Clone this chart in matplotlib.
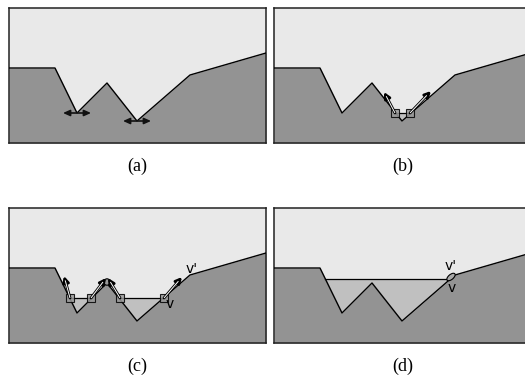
import numpy as np
import matplotlib
matplotlib.use("Agg")
from matplotlib import pyplot as plt
from matplotlib.patches import Rectangle, Ellipse, Circle

# terrain profile shared by all four panels (panel units, y up)
terrain_x = [0, 46, 68, 98, 128, 181, 257]
terrain_h = [75, 75, 30, 60, 22, 68, 90]
panel_w, panel_h = 257, 135

captions = ['(a)', '(b)', '(c)', '(d)']

# (a) horizontal probes at the two valley bottoms
probe_x = [68, 128]
probe_h = [30, 22]
probe_half = 14

# (b) one pool, level and the two edge cells
pool_b = 30
cells_b = [121, 136]
arrows_b = [((121, 30), (110, 51)), ((136, 30), (157, 52))]

# (c) two pools at one level, four edge cells
pool_c = 45
cells_c = [61, 82, 111, 155]
arrows_c = [((61, 45), (55, 67)), ((82, 45), (97, 65)),
            ((111, 45), (99, 65)), ((155, 45), (173, 66))]
peak_c = (98, 61)

# (d) merged pool
pool_d = 64
merge_pt = (177, 66)

sky = '#e9e9e9'
ground = '#939393'
water = '#c0c0c0'

W, H = 525, 380
fig = plt.figure(figsize=(W / 100, H / 100), dpi=100)

# panel boxes in pixels: left, bottom
boxes = [(9, 143), (274, 143), (9, 343), (274, 343)]


def crossings(level, lo, hi):
    # x positions where the terrain meets a water level inside [lo, hi]
    xs = []
    for i in range(len(terrain_x) - 1):
        h0, h1 = terrain_h[i], terrain_h[i + 1]
        if (h0 - level) * (h1 - level) < 0:
            x0, x1 = terrain_x[i], terrain_x[i + 1]
            xc = x0 + (level - h0) / (h1 - h0) * (x1 - x0)
            if lo <= xc <= hi:
                xs.append(xc)
    return xs


def draw_pool(ax, level, lo, hi):
    tx = np.array(terrain_x, float)
    th = np.array(terrain_h, float)
    ax.fill_between(tx, th, level, where=(th < level) & (tx > lo) & (tx < hi),
                    interpolate=True, color=water, lw=0, zorder=2)
    xs = crossings(level, lo, hi)
    for a, b in zip(xs[0::2], xs[1::2]):
        ax.plot([a, b], [level, level], color='k', lw=0.9, zorder=3)


def draw_cell(ax, x, y):
    ax.add_patch(Rectangle((x - 4, y - 4), 8, 8, fc='#9a9a9a', ec='k',
                           lw=0.8, alpha=0.85, zorder=4))


def draw_arrow(ax, p0, p1):
    ax.annotate('', xy=p1, xytext=p0, zorder=5,
                arrowprops=dict(arrowstyle='-|>,head_length=0.35,head_width=0.18',
                                color='k', lw=2.0, shrinkA=0, shrinkB=0))
    d = np.array(p1, float) - np.array(p0, float)
    q = np.array(p0, float) + d * 0.8
    ax.plot([p0[0], q[0]], [p0[1], q[1]], color='white', lw=0.7, zorder=6,
            solid_capstyle='butt')


axes = []
for (lx, by), cap in zip(boxes, captions):
    ax = fig.add_axes([lx / W, (H - by) / H, panel_w / W, panel_h / H])
    ax.set_xlim(0, panel_w)
    ax.set_ylim(0, panel_h)
    ax.set_facecolor(sky)
    ax.fill_between(terrain_x, 0, terrain_h, color=ground, lw=0, zorder=1)
    ax.plot(terrain_x, terrain_h, color='k', lw=1.0, zorder=3.5)
    ax.set_xticks([])
    ax.set_yticks([])
    for s in ax.spines.values():
        s.set_linewidth(1.1)
        s.set_color('#222222')
    ax.text(panel_w / 2, -23.5, cap, ha='center', va='center',
            family='Liberation Serif', fontsize=13, clip_on=False)
    axes.append(ax)

# (a)
ax = axes[0]
for x, h in zip(probe_x, probe_h):
    ax.annotate('', xy=(x + probe_half, h), xytext=(x - probe_half, h), zorder=5,
                arrowprops=dict(arrowstyle='<|-|>,head_length=0.4,head_width=0.18',
                                color='#111111', lw=1.2, shrinkA=0, shrinkB=0))

# (b)
ax = axes[1]
draw_pool(ax, pool_b, 100, 170)
for p0, p1 in arrows_b:
    draw_arrow(ax, p0, p1)
for x in cells_b:
    draw_cell(ax, x, pool_b)

# (c)
ax = axes[2]
draw_pool(ax, pool_c, 40, 175)
for p0, p1 in arrows_c:
    draw_arrow(ax, p0, p1)
for x in cells_c:
    draw_cell(ax, x, pool_c)
ax.add_patch(Circle(peak_c, 3.2, fc='#9a9a9a', ec='k', lw=0.8, zorder=4))
ax.text(183, 74, "v'", ha='center', va='center', fontsize=10,
        family='DejaVu Sans', zorder=7)
ax.text(161, 39, 'v', ha='center', va='center', fontsize=10,
        family='DejaVu Sans', zorder=7)

# (d)
ax = axes[3]
draw_pool(ax, pool_d, 40, 180)
ax.add_patch(Ellipse(merge_pt, 10, 5, angle=40, fc='#a8a8a8', ec='k',
                     lw=0.8, zorder=6))
ax.text(177, 77, "v'", ha='center', va='center', fontsize=10,
        family='DejaVu Sans', zorder=7)
ax.text(178, 55, 'v', ha='center', va='center', fontsize=10,
        family='DejaVu Sans', zorder=7)

fig.savefig('out.png', dpi=100)
